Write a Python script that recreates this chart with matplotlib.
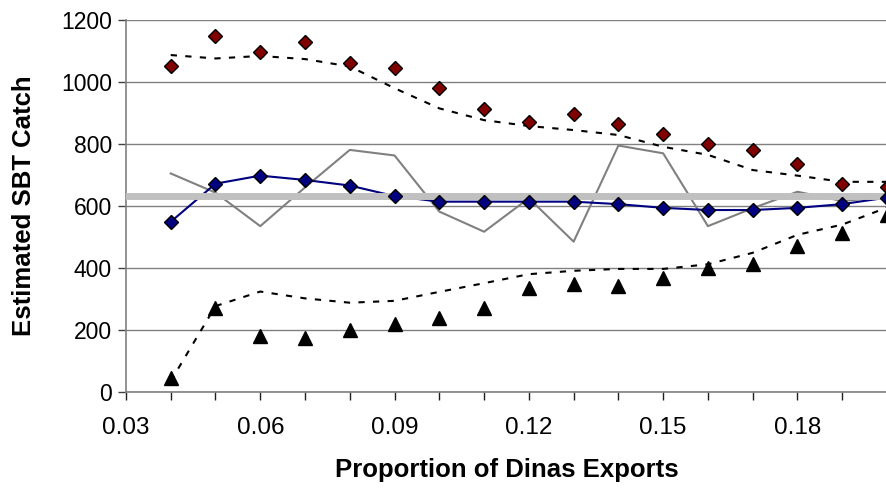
import numpy as np
import matplotlib
matplotlib.use("Agg")
from matplotlib import pyplot as plt
from matplotlib.ticker import MultipleLocator

plt.rcParams["font.family"] = ["Liberation Sans", "DejaVu Sans"]

proportion = [0.04, 0.05, 0.06, 0.07, 0.08, 0.09, 0.10, 0.11, 0.12,
              0.13, 0.14, 0.15, 0.16, 0.17, 0.18, 0.19, 0.20]

upper_points = [1052, 1149, 1098, 1130, 1060, 1046, 982, 912, 872,
                898, 866, 833, 801, 782, 737, 672, 662]
upper_trend = [1087, 1076, 1084, 1074, 1050, 980, 915, 877, 858,
               845, 829, 791, 765, 716, 698, 678, 678]

mean_catch = [549, 672, 698, 684, 666, 632, 614, 614, 614,
              614, 606, 594, 587, 587, 594, 606, 627]
single_run = [705, 643, 535, 660, 781, 763, 582, 517, 625,
              485, 795, 770, 535, 593, 646, 616, 630]
true_catch = 633

lower_points = [44, 270, 181, 173, 200, 218, 240, 270, 334,
                348, 342, 369, 399, 412, 472, 512, 570]
lower_trend = [35, 277, 324, 302, 288, 294, 323, 351, 380,
               391, 397, 397, 412, 449, 507, 540, 595]

fig = plt.figure(figsize=(8.87, 4.92), dpi=100)
ax = fig.add_axes([0.142, 0.2033, 0.858, 0.756])

ax.set_xlim(0.03, 0.20)
ax.set_ylim(0, 1200)

ax.plot(proportion, single_run, color="#808080", lw=1.5, zorder=2)
ax.plot(proportion, mean_catch, color="#000080", lw=1.5, zorder=2)
ax.axhline(true_catch, color="#C0C0C0", lw=5, zorder=3)
ax.plot(proportion, mean_catch, ls="none", marker="D", ms=7.5,
        mfc="#000080", mec="black", mew=1, zorder=4, clip_on=False)

dash = (0, (3, 4))
ax.plot(proportion, upper_trend, color="black", lw=1.5, ls=dash, zorder=4)
ax.plot(proportion, upper_points, ls="none", marker="D", ms=7.5,
        mfc="#800000", mec="black", mew=1, zorder=5, clip_on=False)
ax.plot(proportion, lower_trend, color="black", lw=1.5, ls=dash, zorder=4)
ax.plot(proportion, lower_points, ls="none", marker="^", ms=9.5,
        color="black", zorder=5, clip_on=False)

ax.yaxis.set_major_locator(MultipleLocator(200))
ax.xaxis.set_major_locator(MultipleLocator(0.03))
ax.xaxis.set_minor_locator(MultipleLocator(0.01))
ax.xaxis.set_major_formatter(plt.FuncFormatter(lambda v, p: f"{v:.2f}"))
ax.grid(axis="y", color="#808080", lw=1, zorder=1)

for side in ("top", "right"):
    ax.spines[side].set_visible(False)
for side in ("left", "bottom"):
    ax.spines[side].set_color("#808080")
    ax.spines[side].set_linewidth(1.2)

ax.tick_params(axis="y", direction="out", length=6, width=1, color="#404040",
               labelsize=16.5, pad=4)
ax.tick_params(axis="x", which="both", direction="out", length=6, width=1,
               color="#202020", labelsize=17.5, pad=12)

ax.set_xlabel("Proportion of Dinas Exports", fontsize=18.5, fontweight="bold",
              labelpad=14)
ax.set_ylabel("Estimated SBT Catch", fontsize=18.5, fontweight="bold",
              labelpad=18)

plt.savefig("out.png", dpi=100)
